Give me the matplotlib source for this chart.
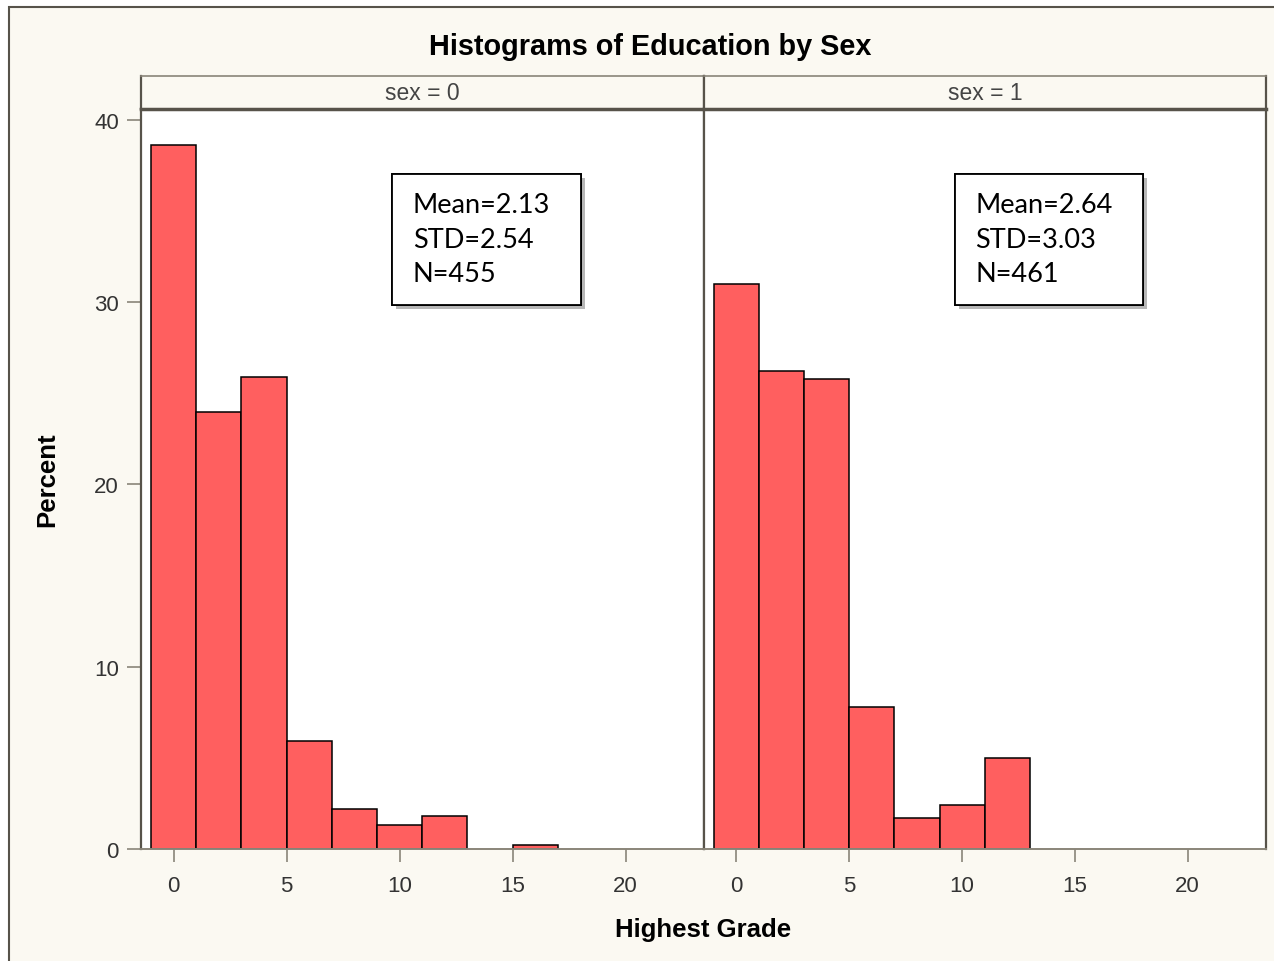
import numpy as np
import matplotlib.pyplot as plt
from matplotlib.patches import Rectangle
import matplotlib.patheffects as pe

# histogram bins (width 2) and percentages
bin_edges = [-1, 1, 3, 5, 7, 9, 11, 13, 15, 17]
pct_sex0 = [38.6, 24.0, 25.9, 5.9, 2.2, 1.3, 1.8, 0.0, 0.2]
pct_sex1 = [31.0, 26.2, 25.8, 7.8, 1.7, 2.4, 5.0, 0.0, 0.0]
panel_labels = ['sex = 0', 'sex = 1']
stats_text = ['Mean=2.13\nSTD=2.54\nN=455', 'Mean=2.64\nSTD=3.03\nN=461']
x_ticks = [0, 5, 10, 15, 20]
y_ticks = [0, 10, 20, 30, 40]

W, H = 1274, 962
bg = '#fbf9f2'
bar_col = '#ff5f5f'
frame_col = '#57534a'
axis_col = '#8a8579'
narrow = ['Liberation Sans Narrow', 'Liberation Sans', 'DejaVu Sans']

fig = plt.figure(figsize=(W / 100, H / 100), dpi=100)
fig.patch.set_facecolor('white')
# outer frame of the graph area
frame = Rectangle((9 / W, -0.01), 1.02, 1 - 8 / H + 0.01, transform=fig.transFigure,
                  facecolor=bg, edgecolor=frame_col, linewidth=1.5, zorder=-5)
fig.patches.append(frame)

def px(x0, y0, x1, y1):
    return [x0 / W, 1 - y1 / H, (x1 - x0) / W, (y1 - y0) / H]

panels = [(141, 704), (704, 1266)]
for i, (pct, (x0, x1)) in enumerate(zip([pct_sex0, pct_sex1], panels)):
    ax = fig.add_axes(px(x0, 110, x1, 850))
    ax.set_facecolor('white')
    edges = np.array(bin_edges)
    pct = np.array(pct)
    keep = pct > 0
    ax.bar(edges[:-1][keep], pct[keep], width=np.diff(edges)[keep], align='edge',
           color=bar_col, edgecolor='black', linewidth=1.1, zorder=2)
    ax.set_xlim(-1.44, 23.47)
    ax.set_ylim(0, 40.6)
    ax.set_xticks(x_ticks)
    ax.set_yticks(y_ticks)
    ax.tick_params(axis='x', length=9, width=1.2, color=axis_col, pad=10,
                   labelsize=16, labelcolor='#333333')
    ax.tick_params(axis='y', length=10, width=1.2, color=axis_col, pad=6,
                   labelsize=16, labelcolor='#333333')
    for lab in ax.get_xticklabels() + ax.get_yticklabels():
        lab.set_family(narrow)
    for s in ['left', 'right', 'top']:
        ax.spines[s].set_color(frame_col)
        ax.spines[s].set_linewidth(1.6)
    ax.spines['bottom'].set_color(axis_col)
    ax.spines['bottom'].set_linewidth(1.4)
    if i == 1:
        ax.tick_params(axis='y', left=False, labelleft=False)

    # stats box with drop shadow
    box = Rectangle((0.446, 0.735), 0.335, 0.177, transform=ax.transAxes,
                    facecolor='white', edgecolor='black', linewidth=1.3, zorder=5,
                    path_effects=[pe.withSimplePatchShadow(offset=(3, -3), shadow_rgbFace='#888888', alpha=0.6),
                                  pe.Normal()])
    ax.add_patch(box)
    ax.text(0.483, 0.824, stats_text[i], transform=ax.transAxes, ha='left', va='center',
            fontsize=19.5, family='Lato', linespacing=1.47, zorder=6)

    # panel header strip
    hx = fig.add_axes(px(x0, 77, x1, 110))
    hx.set_facecolor(bg)
    hx.set_xticks([])
    hx.set_yticks([])
    for s in ['left', 'right']:
        hx.spines[s].set_color(frame_col)
        hx.spines[s].set_linewidth(1.6)
    hx.spines['top'].set_color(axis_col)
    hx.spines['top'].set_linewidth(1.2)
    hx.spines['bottom'].set_color(frame_col)
    hx.spines['bottom'].set_linewidth(2.5)
    hx.text(0.5, 0.5, panel_labels[i], ha='center', va='center', fontsize=16.5,
            color='#444444', family=narrow)

fig.text(650 / W, 1 - 47 / H, 'Histograms of Education by Sex', ha='center', va='center',
         fontsize=20.8, fontweight='bold', family=narrow)
fig.text(703 / W, 1 - 930 / H, 'Highest Grade', ha='center', va='center',
         fontsize=18.5, fontweight='bold', family=narrow)
fig.text(47 / W, 1 - 480 / H, 'Percent', ha='center', va='center', rotation=90,
         fontsize=18.5, fontweight='bold', family=narrow)

fig.savefig('out.png', dpi=100, facecolor=fig.get_facecolor())
